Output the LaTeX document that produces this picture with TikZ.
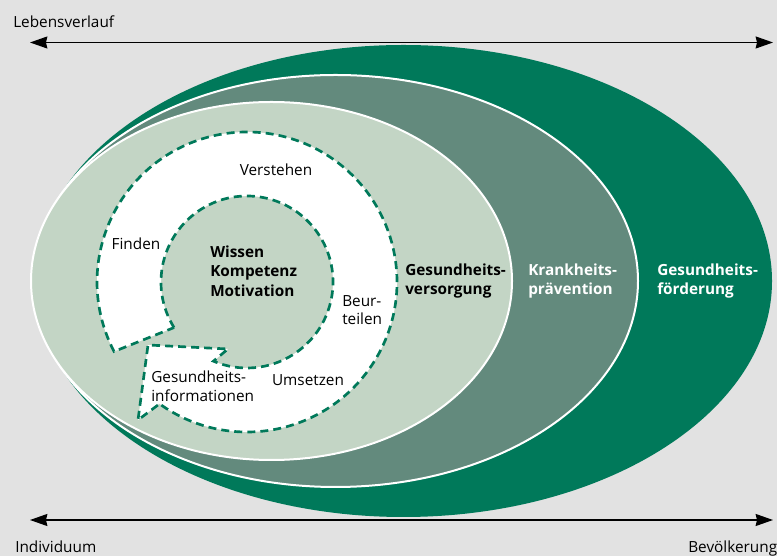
\documentclass[tikz,border=0pt]{standalone}
\usepackage{fontspec}
\setmainfont{Open Sans}
\usepackage{xcolor}
\usepackage{tikz}
\usetikzlibrary{arrows.meta, calc}
\definecolor{hintergrund}{HTML}{E2E2E2}
\definecolor{foerdergruen}{HTML}{00795A}
\definecolor{praeventiongruen}{HTML}{638A7D}
\definecolor{versorgunggruen}{HTML}{C3D5C5}
\tikzstyle{band} = [draw=white, line width=1.5pt]
\tikzstyle{lbl} = [align=left, inner sep=0pt, font=\fontsize{11.5}{14}\selectfont]
\tikzstyle{lblbold} = [lbl, font=\fontsize{11.5}{14.5}\selectfont\bfseries]
\tikzstyle{spiral} = [fill=white, draw=foerdergruen, line width=2pt, dash pattern=on 6pt off 3.8pt]
\tikzstyle{arrow} = [line width=1.1pt, <->, >={Stealth[length=13pt, width=9pt, inset=1pt]}]

\begin{document}
\begin{tikzpicture}[x=0.75pt, y=0.75pt]

	\fill[hintergrund] (0,0) rectangle (777,556);
	\useasboundingbox (0,0) rectangle (777,556);

	% the three fields, largest first
	\fill[foerdergruen] (403.5,275) ellipse [x radius=368.5, y radius=236];
	\path[band, fill=praeventiongruen] (335.5,275) ellipse [x radius=302.5, y radius=206];
	\path[band, fill=versorgunggruen] (271.5,275) ellipse [x radius=240.5, y radius=179];

	% dashed spiral around the core
	\coordinate (mitte) at (247,274);
	\path[spiral] ($(mitte)+(212:86)$) arc [start angle=212, end angle=-113, radius=86]
		-- (228,207) -- (148,211) -- (138,136) -- (158,151)
		-- ($(mitte)+(-126:150)$) arc [start angle=-126, end angle=207.6, radius=150]
		-- cycle;

	\node (verstehen) [lbl] at (276,386) {Verstehen};
	\node (finden) [lbl] at (136,312) {Finden};
	\node (kern) [lblbold, anchor=west] at (210,285) {Wissen\\Kompetenz\\Motivation};
	\node (beurteilen) [lbl, anchor=west] at (342,246) {Beur-\\teilen};
	\node (umsetzen) [lbl] at (308,176) {Umsetzen};
	\node (informationen) [lbl, anchor=west] at (151,170) {Gesundheits-\\informationen};

	\node (versorgung) [lblbold, anchor=west] at (405,275) {Gesundheits-\\versorgung};
	\node (praevention) [lblbold, text=white, anchor=west] at (528,275) {Krankheits-\\prävention};
	\node (foerderung) [lblbold, text=white, anchor=west] at (657,275) {Gesundheits-\\förderung};

	% axes
	\node (lebensverlauf) [lbl, anchor=base west] at (13,528) {Lebensverlauf};
	\node (individuum) [lbl, anchor=base west] at (15,3) {Individuum};
	\node (bevoelkerung) [lbl, anchor=base west] at (688,3) {Bevölkerung};

	\coordinate (lebenL) at (30,513.5);
	\coordinate (lebenR) at (773,513.5);
	\coordinate (gruppeL) at (30,36);
	\coordinate (gruppeR) at (773,36);

	\draw [arrow] (lebenL) -- (lebenR);
	\draw [arrow] (gruppeL) -- (gruppeR);

\end{tikzpicture}
\end{document}
